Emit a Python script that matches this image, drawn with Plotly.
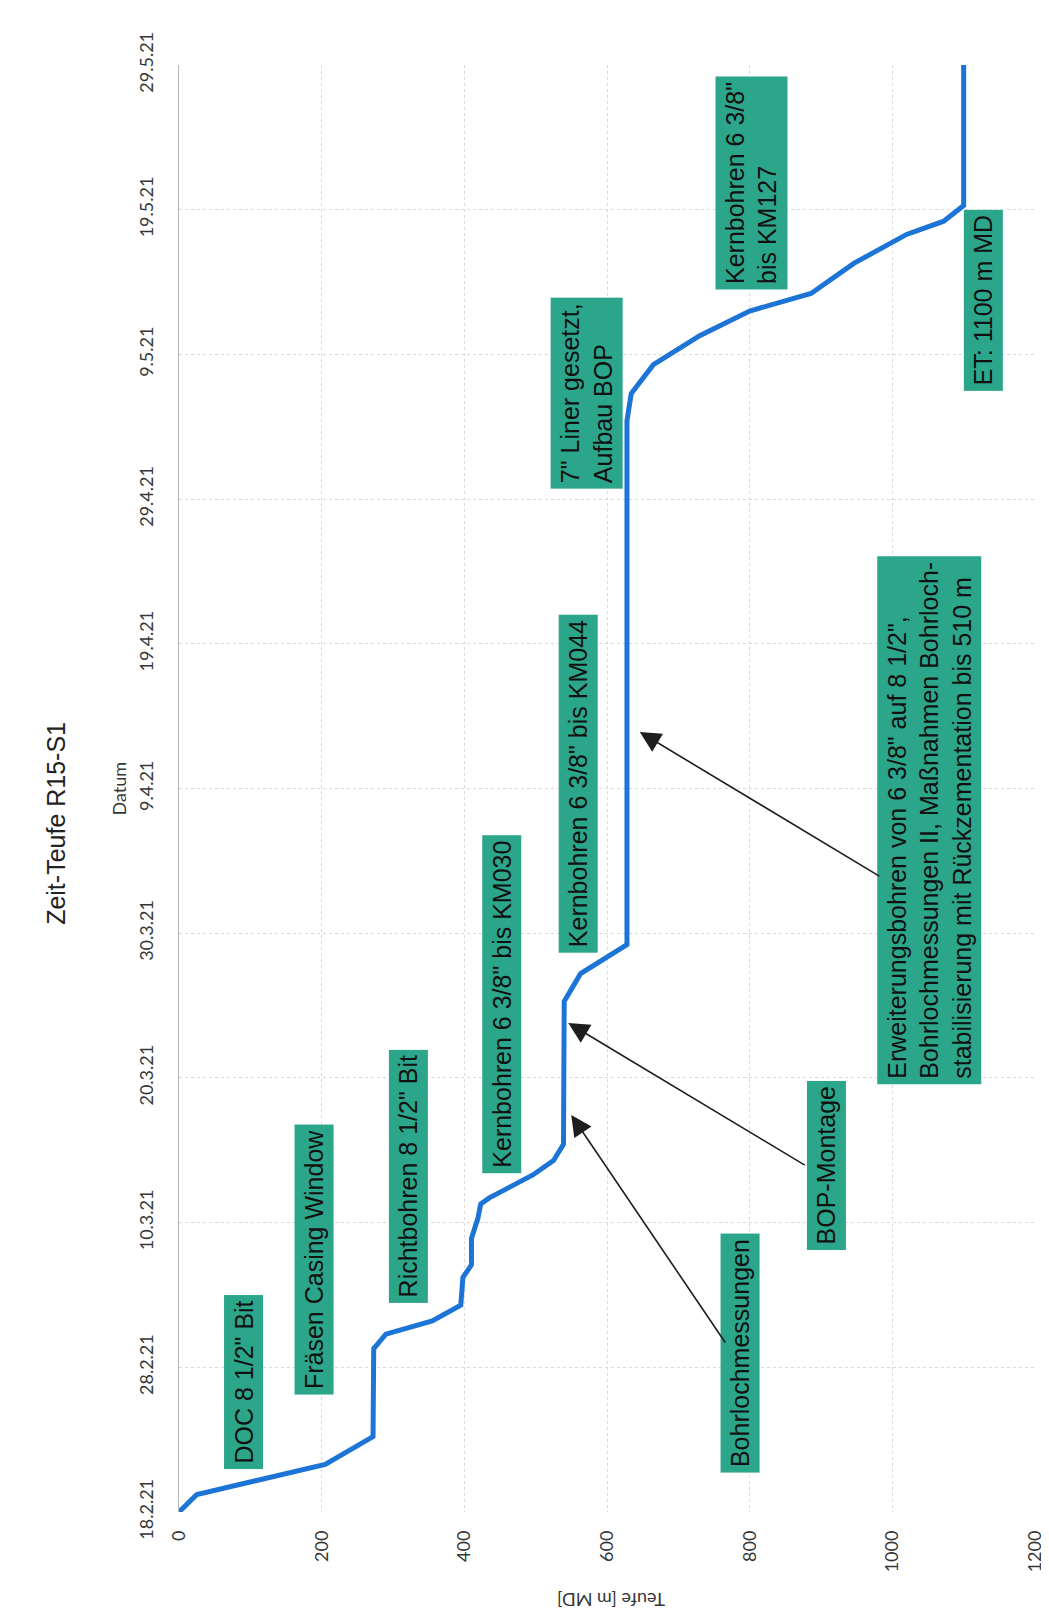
import plotly.graph_objects as go

# ---- data ----
dates = [
    "2021-02-18 00:00", "2021-02-19 05:00", "2021-02-21 07:00", "2021-02-23 05:00",
    "2021-03-01 07:00", "2021-03-02 07:00", "2021-03-03 05:00", "2021-03-04 07:00",
    "2021-03-06 05:00", "2021-03-07 02:00", "2021-03-08 22:00", "2021-03-10 07:00",
    "2021-03-11 07:00", "2021-03-11 17:00", "2021-03-13 07:00", "2021-03-14 07:00",
    "2021-03-15 10:00", "2021-03-25 07:00", "2021-03-26 07:00", "2021-03-27 05:00",
    "2021-03-29 05:00", "2021-05-04 10:00", "2021-05-06 07:00", "2021-05-08 07:00",
    "2021-05-10 07:00", "2021-05-12 00:00", "2021-05-13 05:00", "2021-05-15 07:00",
    "2021-05-17 07:00", "2021-05-18 05:00", "2021-05-19 07:00", "2021-05-29 00:00",
]
depth_m = [
    0, 25, 205, 272,
    273, 290, 355, 395,
    398, 410, 410, 419,
    423, 435, 496, 525,
    539, 540, 552, 563,
    628, 628, 634, 665,
    730, 800, 886, 946,
    1020, 1072, 1100, 1100,
]

date_ticks = ["2021-02-18", "2021-02-28", "2021-03-10", "2021-03-20", "2021-03-30",
              "2021-04-09", "2021-04-19", "2021-04-29", "2021-05-09", "2021-05-19",
              "2021-05-29"]
date_tick_labels = ["18.2.21", "28.2.21", "10.3.21", "20.3.21", "30.3.21", "9.4.21",
                    "19.4.21", "29.4.21", "9.5.21", "19.5.21", "29.5.21"]
depth_ticks = [0, 200, 400, 600, 800, 1000, 1200]

title_text = "Zeit-Teufe R15-S1"
date_axis_title = "Datum"
depth_axis_title = "Teufe [m MD]"

box_texts = [
    "DOC 8 1/2\" Bit",
    "Fräsen Casing Window",
    "Richtbohren 8 1/2\" Bit",
    "Kernbohren 6 3/8\" bis KM030",
    "Kernbohren 6 3/8\" bis KM044",
    "7\" Liner gesetzt,<br>Aufbau BOP",
    "Kernbohren 6 3/8\"<br>bis KM127",
    "ET: 1100 m MD",
    "Bohrlochmessungen",
    "BOP-Montage",
    "Erweiterungsbohren von 6 3/8\" auf 8 1/2\",<br>Bohrlochmessungen II, Maßnahmen Bohrloch-<br>stabilisierung mit Rückzementation bis 510 m",
]

# ---- layout geometry (pixels of the 1049x1620 page) ----
W, H = 1049, 1620
PL, PR, PT, PB = 171, 1033, 57, 1504


def fx(x):
    return (x - PL) / (PR - PL)


def fy(y):
    return (PB - y) / (PB - PT)


box_centers = [
    (236, 1374), (307, 1252), (402, 1168), (496, 996), (573, 776),
    (581, 385), (747, 175), (981, 292), (736, 1345), (823, 1157), (926, 812),
]

# arrows: (tip_x, tip_y, tail_x, tail_y)
arrows = [
    (566, 1107, 721, 1336),
    (563, 1015, 801, 1158),
    (635, 724, 876, 869),
]

GREEN = "#2ba68b"
LINE_BLUE = "#1c74d6"
GRID = "#dadada"
LABEL_GRAY = "#363636"
TICK_FONT = dict(family="Lato, Open Sans, sans-serif", size=18, color=LABEL_GRAY)
BOX_FONT = dict(family="Liberation Sans, Arial, sans-serif", size=25, color="#111111")

fig = go.Figure()
fig.add_trace(go.Scatter(
    x=depth_m, y=dates, mode="lines",
    line=dict(color=LINE_BLUE, width=5),
    hoverinfo="skip", showlegend=False,
))

annotations = []
for txt, (cx, cy) in zip(box_texts, box_centers):
    annotations.append(dict(
        text=txt, xref="paper", yref="paper", x=fx(cx), y=fy(cy),
        xanchor="center", yanchor="middle", textangle=-90, showarrow=False,
        align="left", bgcolor=GREEN, borderpad=5, font=BOX_FONT,
    ))

for tx, ty, sx, sy in arrows:
    annotations.append(dict(
        text="", xref="paper", yref="paper", x=fx(tx), y=fy(ty),
        ax=sx - tx, ay=sy - ty, axref="pixel", ayref="pixel",
        showarrow=True, arrowhead=2, arrowsize=2.6, arrowwidth=1.6,
        arrowcolor="#1e1e1e",
    ))

annotations.append(dict(
    text=title_text, xref="paper", yref="paper", x=fx(47), y=fy(815),
    xanchor="center", yanchor="middle", textangle=-90, showarrow=False,
    font=dict(family="Liberation Sans, Arial, sans-serif", size=25, color="#222222"),
))
annotations.append(dict(
    text=date_axis_title, xref="paper", yref="paper", x=fx(111), y=fy(780),
    xanchor="center", yanchor="middle", textangle=-90, showarrow=False,
    font=TICK_FONT,
))
annotations.append(dict(
    text=depth_axis_title, xref="paper", yref="paper", x=fx(606), y=fy(1592),
    xanchor="center", yanchor="middle", textangle=180, showarrow=False,
    font=TICK_FONT,
))

fig.update_layout(
    width=W, height=H,
    margin=dict(l=PL, r=W - PR, t=PT, b=H - PB),
    paper_bgcolor="white", plot_bgcolor="white",
    showlegend=False,
    annotations=annotations,
    xaxis=dict(
        range=[0, 1200], tickvals=depth_ticks,
        ticktext=[str(v) for v in depth_ticks],
        tickangle=-90, tickfont=TICK_FONT, ticks="", ticklabelstandoff=14,
        showgrid=True, gridcolor=GRID, griddash="dot", gridwidth=1,
        zeroline=False, showline=False,
    ),
    yaxis=dict(
        type="date", range=["2021-02-18", "2021-05-29"],
        tickvals=date_ticks, ticktext=date_tick_labels,
        tickangle=-90, tickfont=TICK_FONT, ticks="", ticklabelstandoff=18,
        showgrid=True, gridcolor=GRID, griddash="dot", gridwidth=1,
        zeroline=False, showline=True, linecolor="#b5b5b5", linewidth=1,
    ),
)

fig.write_html("out.html")
